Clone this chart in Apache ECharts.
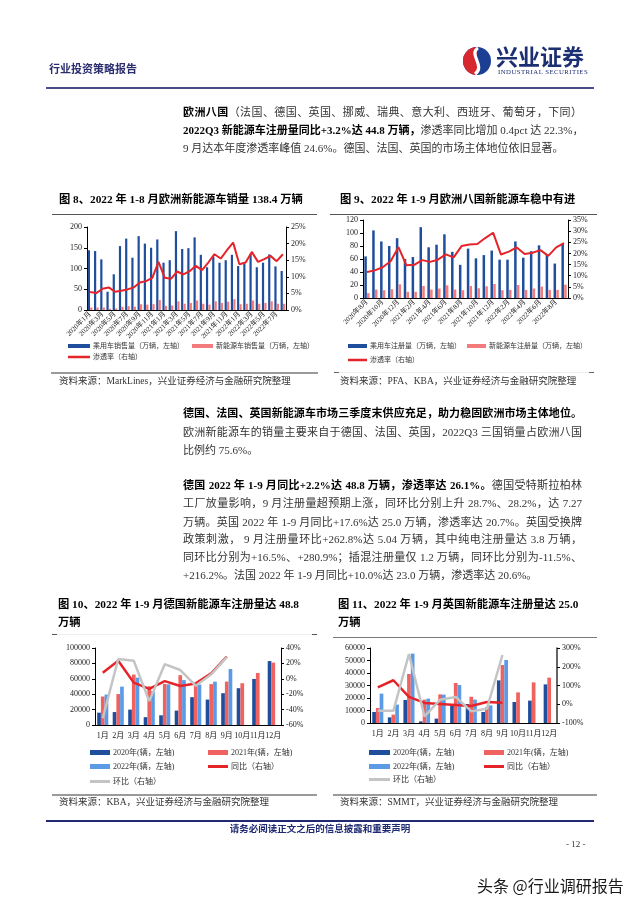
<!DOCTYPE html>
<html><head><meta charset="utf-8">
<script src="https://cdn.jsdelivr.net/npm/echarts/dist/echarts.min.js"></script>
<style>
html,body{margin:0;padding:0;background:#fff;}
body{width:640px;height:905px;position:relative;overflow:hidden;}
#chart{position:absolute;left:0;top:0;width:640px;height:905px;}
.t{position:absolute;white-space:nowrap;font-family:"Liberation Serif","Noto Sans CJK SC",serif;line-height:16px;height:16px;z-index:2;}
.ln{left:183px;width:399px;font-size:11px;color:#333;}
.j{text-align:justify;text-align-last:justify;}
.b{font-weight:bold;color:#000;}
.cap{font-size:11.3px;font-weight:bold;color:#000;}
.src{font-size:9.5px;color:#333;}
.hl{position:absolute;z-index:2;}
</style></head>
<body>
<div id="chart"></div>

<!-- header -->
<div class="t" style="left:49px;top:61px;font-size:11px;font-weight:bold;color:#2b2d6e;">行业投资策略报告</div>
<svg style="position:absolute;left:462px;top:46px;z-index:2" width="30" height="30" viewBox="0 0 30 30">
<circle cx="15" cy="15" r="14" fill="#1c3f94"/>
<path d="M15 1 A14 14 0 0 0 15 29 Z" fill="#d7282f"/>
<path d="M16 2 C6 8,24 20,13 28" stroke="#fff" stroke-width="3.2" fill="none"/>
</svg>
<div class="t" style="left:496px;top:43px;height:24px;line-height:24px;font-size:22px;font-weight:bold;color:#1c2f73;font-family:'Noto Sans CJK SC';">兴业证券</div>
<div class="t" style="left:498px;top:67px;height:10px;line-height:10px;font-size:6.8px;color:#1c2f73;letter-spacing:0.45px;">INDUSTRIAL SECURITIES</div>
<div class="hl" style="left:46px;top:87px;width:548px;height:1.5px;background:#4a4c8a;"></div>

<!-- block 1 -->
<div class="t ln j" style="top:104px;"><span class="b">欧洲八国</span>（法国、德国、英国、挪威、瑞典、意大利、西班牙、葡萄牙，下同）</div>
<div class="t ln j" style="top:122px;"><span class="b">2022Q3 新能源车注册量同比+3.2%达 44.8 万辆，</span>渗透率同比增加 0.4pct 达 22.3%，</div>
<div class="t ln" style="top:140px;">9 月达本年度渗透率峰值 24.6%。德国、法国、英国的市场主体地位依旧显著。</div>

<!-- captions 8/9 -->
<div class="t cap" style="left:59px;top:191px;">图 8、2022 年 1-8 月欧洲新能源车销量 138.4 万辆</div>
<div class="t cap" style="left:340px;top:191px;">图 9、2022 年 1-9 月欧洲八国新能源车稳中有进</div>
<div class="hl" style="left:52px;top:214px;width:265px;height:1px;background:#555;"></div>
<div class="hl" style="left:330px;top:214px;width:267px;height:1px;background:#555;"></div>
<div class="hl" style="left:51px;top:372px;width:267px;height:1.5px;background:#9a9a9a;"></div>
<div class="hl" style="left:334px;top:372px;width:260px;height:1px;background:#ececec;"></div>
<div class="hl" style="left:334px;top:372px;width:5px;height:1px;background:#666;"></div>
<div class="hl" style="left:589px;top:372px;width:5px;height:1px;background:#666;"></div>
<div class="t src" style="left:59px;top:373px;">资料来源：MarkLines，兴业证券经济与金融研究院整理</div>
<div class="t src" style="left:340px;top:373px;">资料来源：PFA、KBA，兴业证券经济与金融研究院整理</div>

<!-- block 2 -->
<div class="t ln j b" style="top:405px;">德国、法国、英国新能源车市场三季度末供应充足，助力稳固欧洲市场主体地位。</div>
<div class="t ln j" style="top:423.5px;">欧洲新能源车的销量主要来自于德国、法国、英国，2022Q3 三国销量占欧洲八国</div>
<div class="t ln" style="top:442px;">比例约 75.6%。</div>

<!-- block 3 -->
<div class="t ln j" style="top:477px;"><span class="b">德国 2022 年 1-9 月同比+2.2%达 48.8 万辆，渗透率达 26.1%。</span>德国受特斯拉柏林</div>
<div class="t ln j" style="top:495px;">工厂放量影响，9 月注册量超预期上涨，同环比分别上升 28.7%、28.2%，达 7.27</div>
<div class="t ln j" style="top:513.5px;">万辆。英国 2022 年 1-9 月同比+17.6%达 25.0 万辆，渗透率达 20.7%。英国受换牌</div>
<div class="t ln j" style="top:531px;">政策刺激， 9 月注册量环比+262.8%达 5.04 万辆，其中纯电注册量达 3.8 万辆，</div>
<div class="t ln j" style="top:549px;">同环比分别为+16.5%、+280.9%；插混注册量仅 1.2 万辆，同环比分别为-11.5%、</div>
<div class="t ln" style="top:566.5px;">+216.2%。法国 2022 年 1-9 月同比+10.0%达 23.0 万辆，渗透率达 20.6%。</div>

<!-- captions 10/11 -->
<div class="t cap" style="left:58px;top:596px;">图 10、2022 年 1-9 月德国新能源车注册量达 48.8</div>
<div class="t cap" style="left:58px;top:614px;">万辆</div>
<div class="t cap" style="left:338px;top:596px;">图 11、2022 年 1-9 月英国新能源车注册量达 25.0</div>
<div class="t cap" style="left:338px;top:614px;">万辆</div>
<div class="hl" style="left:52px;top:634px;width:265px;height:1px;background:#eeeeee;"></div>
<div class="hl" style="left:52px;top:634px;width:5px;height:1px;background:#555;"></div>
<div class="hl" style="left:312px;top:634px;width:5px;height:1px;background:#555;"></div>
<div class="hl" style="left:333px;top:637px;width:264px;height:1px;background:#777;"></div>
<div class="hl" style="left:52px;top:794px;width:265px;height:1.5px;background:#9a9a9a;"></div>
<div class="hl" style="left:333px;top:794px;width:264px;height:1.5px;background:#9a9a9a;"></div>
<div class="t src" style="left:59px;top:794px;">资料来源：KBA，兴业证券经济与金融研究院整理</div>
<div class="t src" style="left:340px;top:794px;">资料来源：SMMT，兴业证券经济与金融研究院整理</div>

<!-- footer -->
<div class="hl" style="left:46px;top:820px;width:548px;height:2px;background:#1f2a70;"></div>
<div class="t" style="left:0;width:640px;text-align:center;top:821px;font-size:9.5px;font-weight:bold;color:#1f2a70;">请务必阅读正文之后的信息披露和重要声明</div>
<div class="t" style="left:566px;top:836px;font-size:9px;color:#333;">- 12 -</div>
<div class="t" style="left:477px;top:874px;height:22px;line-height:22px;font-size:16px;color:#1a1a1a;font-family:'Noto Sans CJK SC';">头条 @行业调研报告</div>

<script>
// ---------- Chart 8: Europe passenger car sales vs NEV sales (万辆), penetration (%) ----------
const c8Cats = ['2020年1月','2020年2月','2020年3月','2020年4月','2020年5月','2020年6月','2020年7月','2020年8月','2020年9月','2020年10月','2020年11月','2020年12月',
  '2021年1月','2021年2月','2021年3月','2021年4月','2021年5月','2021年6月','2021年7月','2021年8月','2021年9月','2021年10月','2021年11月','2021年12月',
  '2022年1月','2022年2月','2022年3月','2022年4月','2022年5月','2022年6月','2022年7月','2022年8月'];
const c8Total = [144,142,122,44,86,154,172,126,178,160,150,170,114,120,190,147,149,175,133,103,129,114,120,133,106,112,135,103,114,134,105,94];
const c8NEV = [6,6,6,3,4,8,9,8,14,13,14,24,10,11,21,15,17,23,15,13,21,17,20,26,14,15,23,15,17,21,15,15];
const c8Rate = [5.4,5.1,6.4,6.8,5.5,5.8,6.2,6.8,8.3,8.7,9.7,14.5,9.7,9.4,11.6,10.7,11.7,13.3,12.0,14.3,16.8,15.5,18.0,20.3,13.8,14.3,17.5,14.5,15.3,16.3,14.7,16.8];

// ---------- Chart 9: Europe-8 registrations (万辆), penetration (%) ----------
const c9Cats = ['2020年8月','2020年9月','2020年10月','2020年11月','2020年12月',
  '2021年1月','2021年2月','2021年3月','2021年4月','2021年5月','2021年6月','2021年7月','2021年8月','2021年9月','2021年10月','2021年11月','2021年12月',
  '2022年1月','2022年2月','2022年3月','2022年4月','2022年5月','2022年6月','2022年7月','2022年8月','2022年9月'];
const c9Total = [64,104,87,80,92,60,63,109,78,82,98,71,51,76,61,66,73,59,59,87,62,72,81,67,53,84];
const c9NEV = [7.5,13,12,13.5,21,9.5,9.5,18.5,13,14.5,19.5,13,12,18.5,15,18,21.5,12,12.5,20,12.5,14.5,17.5,12.5,12.5,20.5];
const c9Rate = [11.7,12.4,13.8,16.5,22.8,14.7,14.9,17.0,16.2,17.2,19.6,18.2,23.3,24.0,24.2,26.9,29.3,19.5,20.8,22.7,19.7,20.3,21.5,18.9,22.7,24.6];

// ---------- Chart 10 & 11: monthly registrations (辆), YoY / MoM (%) ----------
const monthCats = ['1月','2月','3月','4月','5月','6月','7月','8月','9月','10月','11月','12月'];
const c10Y2020 = [16000,16800,20000,10200,12600,18700,36100,33000,41300,47800,59800,83000];
const c10Y2021 = [37000,40200,65500,50200,53300,64700,54400,53100,56400,54200,67600,81000];
const c10Y2022 = [39500,49800,61500,44000,52800,58300,52500,56300,72700];
const c10YoY = [8,23.5,-5,-13,-3,-9.4,-6,7,28.7];
const c10MoM = [-51,25.7,23.5,-29,19,11.4,-9,5.8,28.2];

const c11Y2020 = [8800,4500,18400,1300,3500,14000,15200,8800,34100,16800,17900,30900];
const c11Y2021 = [12000,6700,39200,18700,22900,32000,21000,12600,46400,24500,32500,36300];
const c11Y2022 = [23500,14700,55500,19500,22700,30400,18700,14100,50400];
const c11YoY = [90,128,39,7,1,-4,-9,12,8.5];
const c11MoM = [-35,-35,268,-65,24,39,-38,-24,262.8];

const FONT = "'Liberation Serif','Noto Sans CJK SC',serif";
const BLUE = '#1f4e9d', PINK = '#f47b7b', RED = '#e5242a';
const D20 = '#1f4e9d', D21 = '#f0625f', D22 = '#5b9be6', GRAY = '#c4c4c4';

function yAx(grid, pos, min, max, interval, pct, extra) {
  return Object.assign({
    type: 'value', gridIndex: grid, position: pos, min: min, max: max, interval: interval,
    axisLine: {show: true, lineStyle: {color: '#000', width: 1}},
    axisTick: {show: true, length: 3, lineStyle: {color: '#000'}},
    splitLine: {show: false},
    axisLabel: {fontSize: 8, color: '#222', fontFamily: FONT, margin: 5,
      formatter: pct ? function (v) { return String(v) + '%'; } : function (v) { return String(v); }}
  }, extra || {});
}
function xAx(grid, data, label) {
  return {
    type: 'category', gridIndex: grid, data: data,
    axisLine: {show: true, lineStyle: {color: '#000', width: 1}},
    axisTick: {show: false},
    axisLabel: Object.assign({color: '#222', fontFamily: FONT}, label)
  };
}
function leg(name, left, cy, w, h, fs) {
  return {
    left: left, top: cy - 4.5, padding: 0, itemGap: 0, itemWidth: w, itemHeight: h,
    selectedMode: false, orient: 'horizontal',
    textStyle: {fontSize: fs, color: '#333', fontFamily: FONT, padding: [0, 0, 0, -2]},
    data: [{name: name, icon: 'rect'}]
  };
}

const chart = echarts.init(document.getElementById('chart'), null, {renderer: 'canvas'});
chart.setOption({
  animation: false,
  backgroundColor: 'transparent',
  grid: [
    {left: 87, top: 227, width: 199, height: 83},
    {left: 363, top: 220, width: 205, height: 78},
    {left: 95, top: 648, width: 186, height: 77},
    {left: 370, top: 648, width: 187, height: 75}
  ],
  xAxis: [
    xAx(0, c8Cats, {interval: 1, rotate: 45, fontSize: 7, margin: 3}),
    xAx(1, c9Cats, {interval: 1, rotate: 45, fontSize: 7, margin: 3}),
    xAx(2, monthCats, {interval: 0, fontSize: 8, margin: 7}),
    xAx(3, monthCats, {interval: 0, fontSize: 8, margin: 7})
  ],
  yAxis: [
    yAx(0, 'left', 0, 200, 50, false),
    yAx(0, 'right', 0, 25, 5, true),
    yAx(1, 'left', 0, 120, 20, false),
    yAx(1, 'right', 0, 35, 5, true),
    yAx(2, 'left', 0, 100000, 20000, false),
    yAx(2, 'right', -60, 40, 20, true),
    yAx(3, 'left', 0, 60000, 10000, false),
    yAx(3, 'right', -100, 300, 100, true, {axisLine: {show: true, lineStyle: {color: '#333', width: 1.5}}})
  ],
  legend: [
    leg('乘用车销售量（万辆，左轴）', 68, 347, 22, 4, 7),
    leg('新能源车销售量（万辆，左轴）', 192, 347, 21, 4, 7),
    leg('渗透率（右轴）', 68, 358, 22, 2.5, 7),
    leg('乘用车注册量（万辆，左轴）', 348, 347, 19, 4, 7),
    leg('新能源车注册量（万辆，左轴）', 467, 347, 19, 4, 7),
    leg('渗透率（右轴）', 348, 361, 19, 2.5, 7),
    leg('2020年(辆，左轴)', 90, 753, 20, 5, 8),
    leg('2021年(辆，左轴)', 208, 753, 20, 5, 8),
    leg('2022年(辆，左轴)', 90, 767, 20, 5, 8),
    leg('同比（右轴）', 208, 767, 20, 3, 8),
    leg('环比（右轴）', 90, 782, 20, 3, 8),
    leg('2020年(辆，左轴)', 369, 753, 21, 5, 8),
    leg('2021年(辆，左轴)', 484, 753, 20, 5, 8),
    leg('2022年(辆，左轴)', 369, 767, 21, 5, 8),
    leg('同比（右轴）', 484, 767, 20, 3, 8),
    leg('环比（右轴）', 369, 780, 21, 3, 8)
  ],
  series: [
    {name: '乘用车销售量（万辆，左轴）', type: 'bar', xAxisIndex: 0, yAxisIndex: 0, data: c8Total, barWidth: 2.2, barGap: '10%', itemStyle: {color: BLUE}, color: BLUE},
    {name: '新能源车销售量（万辆，左轴）', type: 'bar', xAxisIndex: 0, yAxisIndex: 0, data: c8NEV, barWidth: 2.2, itemStyle: {color: PINK}, color: PINK},
    {name: '渗透率（右轴）', type: 'line', xAxisIndex: 0, yAxisIndex: 1, data: c8Rate, symbol: 'none', lineStyle: {color: RED, width: 2}, itemStyle: {color: RED}, color: RED},

    {name: '乘用车注册量（万辆，左轴）', type: 'bar', xAxisIndex: 1, yAxisIndex: 2, data: c9Total, barWidth: 2.5, barGap: '10%', itemStyle: {color: BLUE}, color: BLUE},
    {name: '新能源车注册量（万辆，左轴）', type: 'bar', xAxisIndex: 1, yAxisIndex: 2, data: c9NEV, barWidth: 2.5, itemStyle: {color: PINK}, color: PINK},
    {name: '渗透率（右轴）', type: 'line', xAxisIndex: 1, yAxisIndex: 3, data: c9Rate, symbol: 'none', lineStyle: {color: RED, width: 2}, itemStyle: {color: RED}, color: RED},

    {name: '2020年(辆，左轴)', type: 'bar', xAxisIndex: 2, yAxisIndex: 4, data: c10Y2020, barWidth: 3.7, barGap: '0%', itemStyle: {color: D20}, color: D20},
    {name: '2021年(辆，左轴)', type: 'bar', xAxisIndex: 2, yAxisIndex: 4, data: c10Y2021, barWidth: 3.7, barGap: '0%', itemStyle: {color: D21}, color: D21},
    {name: '2022年(辆，左轴)', type: 'bar', xAxisIndex: 2, yAxisIndex: 4, data: c10Y2022, barWidth: 3.7, barGap: '0%', itemStyle: {color: D22}, color: D22},
    {name: '同比（右轴）', type: 'line', xAxisIndex: 2, yAxisIndex: 5, data: c10YoY, symbol: 'none', lineStyle: {color: RED, width: 2.5}, itemStyle: {color: RED}, color: RED},
    {name: '环比（右轴）', type: 'line', xAxisIndex: 2, yAxisIndex: 5, data: c10MoM, symbol: 'none', lineStyle: {color: GRAY, width: 2.5}, itemStyle: {color: GRAY}, color: GRAY},

    {name: '2020年(辆，左轴)', type: 'bar', xAxisIndex: 3, yAxisIndex: 6, data: c11Y2020, barWidth: 3.7, barGap: '0%', itemStyle: {color: D20}, color: D20},
    {name: '2021年(辆，左轴)', type: 'bar', xAxisIndex: 3, yAxisIndex: 6, data: c11Y2021, barWidth: 3.7, barGap: '0%', itemStyle: {color: D21}, color: D21},
    {name: '2022年(辆，左轴)', type: 'bar', xAxisIndex: 3, yAxisIndex: 6, data: c11Y2022, barWidth: 3.7, barGap: '0%', itemStyle: {color: D22}, color: D22},
    {name: '同比（右轴）', type: 'line', xAxisIndex: 3, yAxisIndex: 7, data: c11YoY, symbol: 'none', lineStyle: {color: RED, width: 2.5}, itemStyle: {color: RED}, color: RED},
    {name: '环比（右轴）', type: 'line', xAxisIndex: 3, yAxisIndex: 7, data: c11MoM, symbol: 'none', lineStyle: {color: GRAY, width: 2.5}, itemStyle: {color: GRAY}, color: GRAY}
  ]
});
</script>
</body></html>
